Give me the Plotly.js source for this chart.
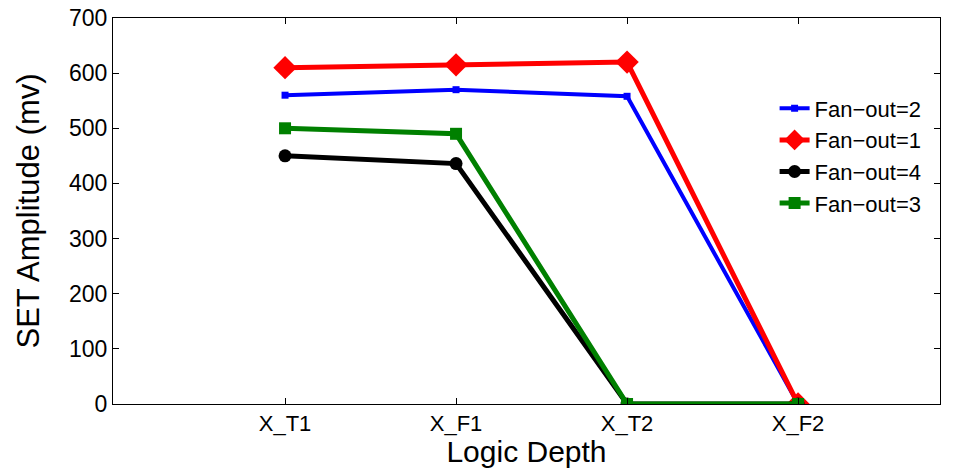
<!DOCTYPE html>
<html>
<head>
<meta charset="utf-8">
<script src="https://cdn.plot.ly/plotly-3.0.1.min.js"></script>
<style>html,body{margin:0;padding:0;background:#fff;}#chart{width:960px;height:468px;}</style>
</head>
<body>
<div id="chart"></div>
<script>
const categories = ["X_T1", "X_F1", "X_T2", "X_F2"];
const fanout2 = [560, 570, 558, 0];
const fanout1 = [610, 615, 620, 0];
const fanout4 = [450, 436, 0, 0];
const fanout3 = [500, 490, 0, 0];
const yTicks = [0, 100, 200, 300, 400, 500, 600, 700];

const xIdx = categories.map((c, i) => i);

const traces = [
  {name: "Fan\u2212out=2", y: fanout2, color: "#0000ff", symbol: "square", size: 7, width: 4},
  {name: "Fan\u2212out=1", y: fanout1, color: "#ff0000", symbol: "diamond", size: 18, width: 5},
  {name: "Fan\u2212out=4", y: fanout4, color: "#000000", symbol: "circle", size: 13, width: 5},
  {name: "Fan\u2212out=3", y: fanout3, color: "#008000", symbol: "square", size: 12, width: 5}
].map(t => ({
  type: "scatter", mode: "lines+markers", name: t.name,
  x: xIdx, y: t.y,
  line: {color: t.color, width: t.width},
  marker: {color: t.color, symbol: t.symbol, size: t.size, line: {width: 0}}
}));

const font = "Liberation Sans, Arial, sans-serif";
const layout = {
  width: 960, height: 468,
  margin: {l: 113, r: 20, t: 18, b: 64},
  paper_bgcolor: "#fff", plot_bgcolor: "#fff",
  font: {family: font, color: "#000", size: 23},
  showlegend: true,
  legend: {x: 0.80, y: 0.82, xanchor: "left", yanchor: "top", bgcolor: "rgba(0,0,0,0)",
           font: {family: font, size: 22, color: "#000"}, tracegroupgap: 0, itemwidth: 30},
  xaxis: {
    range: [-1.006, 3.83], tickmode: "array", tickvals: xIdx, ticktext: categories,
    showline: true, linecolor: "#000", linewidth: 1, mirror: "ticks",
    ticks: "inside", ticklen: 6, tickcolor: "#000", showgrid: false, zeroline: false,
    tickfont: {family: font, size: 22, color: "#000"},
    title: {text: "Logic Depth", font: {family: font, size: 30, color: "#000"}, standoff: 0},
    automargin: false
  },
  yaxis: {
    range: [0, 700], tickmode: "array", tickvals: yTicks,
    showline: true, linecolor: "#000", linewidth: 1, mirror: "ticks",
    ticks: "inside", ticklen: 6, tickcolor: "#000", showgrid: false, zeroline: false,
    tickfont: {family: font, size: 23, color: "#000"},
    title: {text: "SET Amplitude (mv)", font: {family: font, size: 31, color: "#000"}, standoff: 20},
    automargin: false
  }
};

Plotly.newPlot("chart", traces, layout, {displayModeBar: false, staticPlot: true});
</script>
</body>
</html>
